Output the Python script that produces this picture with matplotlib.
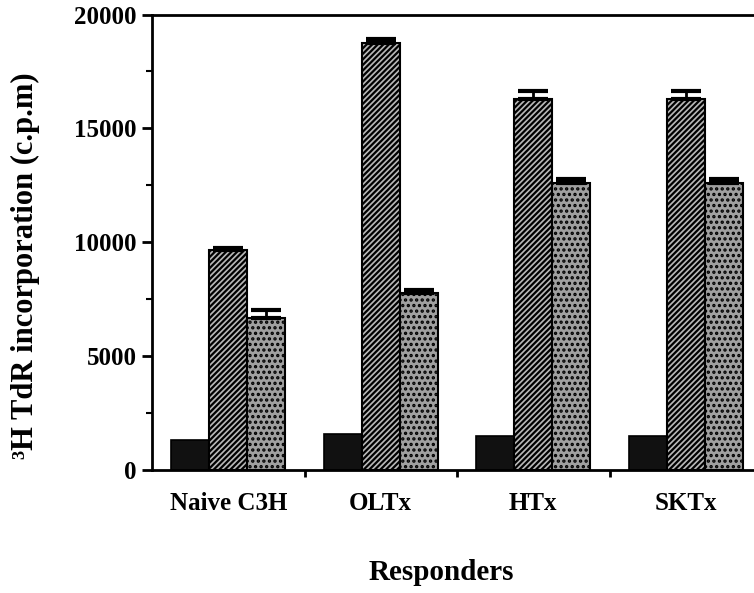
import numpy as np
import matplotlib
matplotlib.use("Agg")
import matplotlib.pyplot as plt
from matplotlib.ticker import MultipleLocator

plt.rcParams['font.family'] = ['Liberation Serif', 'DejaVu Serif']
plt.rcParams['font.weight'] = 'bold'
plt.rcParams['axes.labelweight'] = 'bold'
plt.rcParams['hatch.linewidth'] = 1.6

# Data
responders = ["Naive C3H", "OLTx", "HTx", "SKTx"]
control = [1320, 1580, 1500, 1500]
stim_a = [9660, 18750, 16280, 16280]
stim_a_err = [100, 180, 380, 380]
stim_b = [6680, 7770, 12620, 12620]
stim_b_err = [350, 130, 150, 150]

x = np.arange(len(responders))
w = 0.25

fig = plt.figure(figsize=(7.54, 5.93), dpi=100)
ax = fig.add_axes([152 / 754, 123 / 593, 610 / 754, 455.5 / 593])

ax.bar(x - w, control, w, color='#111111', edgecolor='black', linewidth=1.2)
ax.bar(x, stim_a, w, color='#b8b8b8', edgecolor='black', linewidth=1.5,
       hatch='//////')
ax.bar(x + w, stim_b, w, color='#a0a0a0', edgecolor='black', linewidth=1.5,
       hatch='...')

err_kw = dict(fmt='none', ecolor='black', elinewidth=2, capsize=11, capthick=3)
ax.errorbar(x, stim_a, yerr=[np.zeros(4), stim_a_err], **err_kw)
ax.errorbar(x + w, stim_b, yerr=[np.zeros(4), stim_b_err], **err_kw)

ax.set_xlim(-0.5, 3.5)
ax.set_ylim(0, 20000)
ax.yaxis.set_major_locator(MultipleLocator(5000))
ax.yaxis.set_minor_locator(MultipleLocator(2500))
ax.tick_params(axis='y', which='major', length=7, width=2, labelsize=18, pad=4)
ax.tick_params(axis='y', which='minor', length=4, width=1.5)

ax.set_xticks([0.5, 1.5, 2.5])
ax.set_xticklabels([])
ax.set_xticks(x, minor=True)
ax.set_xticklabels(responders, minor=True)
ax.tick_params(axis='x', which='major', length=5, width=2)
ax.tick_params(axis='x', which='minor', length=0, labelsize=18, pad=16)

for s in ax.spines.values():
    s.set_linewidth(2)

ax.set_ylabel("³H TdR incorporation (c.p.m)", fontsize=22)
ax.yaxis.set_label_coords(-(152 - 25) / 610, (470 - 266) / 455.5)
ax.yaxis.label.set_va('center')
ax.set_xlabel("Responders", fontsize=21)
ax.xaxis.set_label_coords(289 / 610, -(573 - 470) / 455.5)
ax.xaxis.label.set_va('center')

fig.savefig("out.png", dpi=100)
